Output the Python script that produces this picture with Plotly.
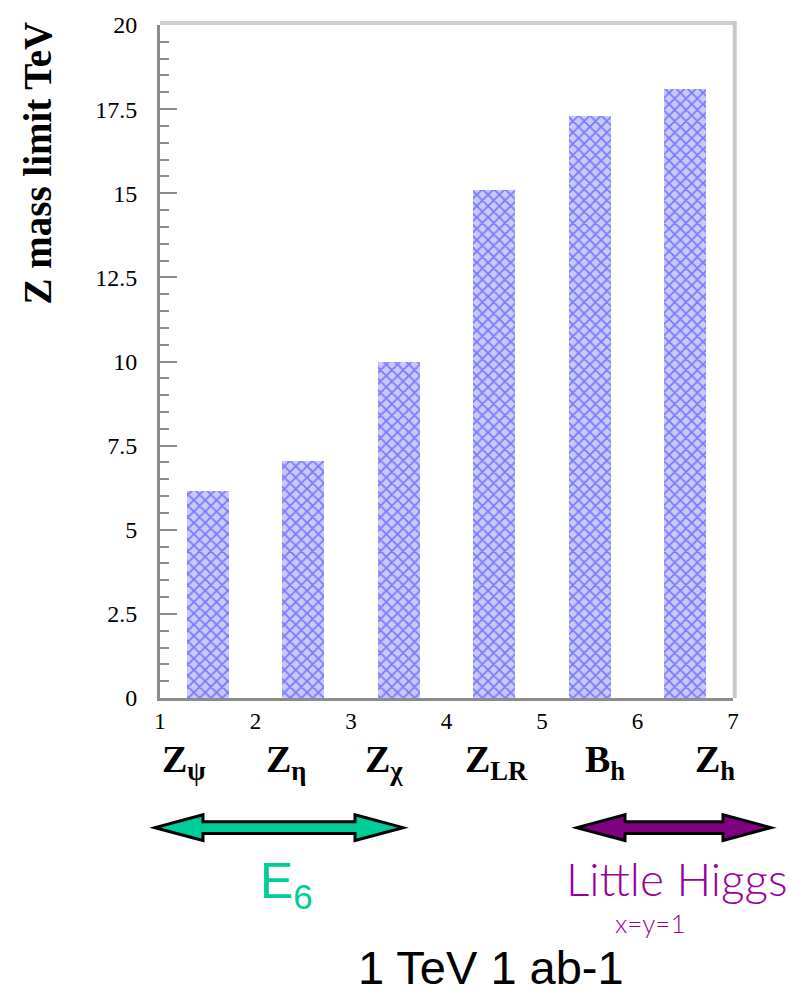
import plotly.graph_objects as go

# Z' mass reach at a 1 TeV collider with 1 ab^-1
models = ["Z<sub>ψ</sub>", "Z<sub>η</sub>", "Z<sub>χ</sub>", "Z<sub>LR</sub>", "B<sub>h</sub>", "Z<sub>h</sub>"]
mass_limit_tev = [6.15, 7.05, 10.0, 15.1, 17.3, 18.1]
x_ticks = [1, 2, 3, 4, 5, 6, 7]
y_ticks = [0, 2.5, 5, 7.5, 10, 12.5, 15, 17.5, 20]
y_tick_labels = ["0", "2.5", "5", "7.5", "10", "12.5", "15", "17.5", "20"]

# bars sit in the middle of each unit bin
bar_x = [i + 1.5 for i in range(len(models))]

W, H = 812, 999
ML, MR, MT, MB = 160, 79, 18, 301
PW, PH = W - ML - MR, H - MT - MB


def px(x):
    return (x - ML) / PW


def py(y):
    return (H - MB - y) / PH


SERIF = "Liberation Serif, Times New Roman, serif"
SANS = "Liberation Sans, Arial, sans-serif"

fig = go.Figure()
fig.add_trace(go.Bar(
    x=bar_x,
    y=mass_limit_tev,
    width=0.44,
    marker=dict(
        color="#bcbcfa",
        line=dict(width=0),
        pattern=dict(shape="x", fgcolor="#2a2aff", bgcolor="#c8c8fc", size=8, solidity=0.4),
    ),
    hoverinfo="skip",
))

fig.update_layout(
    width=W, height=H,
    margin=dict(l=ML, r=MR, t=MT, b=MB, pad=0),
    paper_bgcolor="white", plot_bgcolor="white",
    showlegend=False,
    bargap=0,
)

fig.update_xaxes(
    range=[1, 7], tickvals=x_ticks, ticktext=[str(v) for v in x_ticks],
    showgrid=False, zeroline=False, ticks="",
    showline=True, linecolor="#8c8c8c", linewidth=3,
    tickfont=dict(family=SERIF, size=23, color="black"),
    ticklabelstandoff=0,
)
fig.update_yaxes(
    range=[0, 20], tickvals=y_ticks, ticktext=y_tick_labels,
    showgrid=False, zeroline=False,
    ticks="inside", ticklen=17, tickwidth=2, tickcolor="#8c8c8c",
    minor=dict(dtick=0.5, ticks="inside", ticklen=9, tickwidth=2, tickcolor="#8c8c8c"),
    showline=True, linecolor="#8c8c8c", linewidth=3,
    tickfont=dict(family=SERIF, size=24, color="black"),
    ticklabelstandoff=15,
)

# light frame along the top and right edges
fig.add_shape(type="line", xref="paper", yref="paper", x0=0, x1=1.006, y0=1.003, y1=1.003,
              line=dict(color="#cfcfcf", width=4))
fig.add_shape(type="line", xref="paper", yref="paper", x0=1.003, x1=1.003, y0=0, y1=1.006,
              line=dict(color="#c8c8c8", width=4))

# model names under the axis
label_left_px = [160, 264, 363, 463, 583, 693]
for name, xl in zip(models, label_left_px):
    fig.add_annotation(
        text="<b>" + name + "</b>", x=px(xl), y=py(763), xref="paper", yref="paper",
        xanchor="left", yanchor="middle", showarrow=False,
        font=dict(family=SERIF, size=38, color="black"),
    )

# axis title
fig.add_annotation(
    text="<b>Z mass limit TeV</b>", textangle=-90,
    x=px(38), y=py(13), xref="paper", yref="paper",
    xanchor="center", yanchor="top", showarrow=False,
    font=dict(family=SERIF, size=39, color="black"),
)


def double_arrow(x0, x1, yc, fill, head=48, hh=13, sh=6):
    pts = [
        (x0, yc), (x0 + head, yc - hh), (x0 + head, yc - sh), (x1 - head, yc - sh),
        (x1 - head, yc - hh), (x1, yc), (x1 - head, yc + hh), (x1 - head, yc + sh),
        (x0 + head, yc + sh), (x0 + head, yc + hh),
    ]
    path = "M " + " L ".join(f"{px(a):.5f},{py(b):.5f}" for a, b in pts) + " Z"
    fig.add_shape(type="path", path=path, xref="paper", yref="paper",
                  fillcolor=fill, line=dict(color="black", width=3), layer="above")


double_arrow(155, 403, 829, "#00cc99")
double_arrow(577, 771, 829, "#800080")

# group labels
fig.add_annotation(
    text="E<sub>6</sub>", x=px(258), y=py(886), xref="paper", yref="paper",
    xanchor="left", yanchor="middle", showarrow=False,
    font=dict(family=SANS, size=50, color="#00cc99"),
)
fig.add_annotation(
    text="Little Higgs", x=px(676), y=py(880), xref="paper", yref="paper",
    xanchor="center", yanchor="middle", showarrow=False,
    font=dict(family="Lato, " + SANS, size=46, color="#990099", weight=300),
)
fig.add_annotation(
    text="x=y=1", x=px(650), y=py(925), xref="paper", yref="paper",
    xanchor="center", yanchor="middle", showarrow=False,
    font=dict(family="Lato, " + SANS, size=26, color="#990099", weight=300),
)
fig.add_annotation(
    text="1 TeV 1 ab-1", x=px(491), y=py(999), xref="paper", yref="paper",
    xanchor="center", yanchor="bottom", showarrow=False,
    font=dict(family=SANS, size=47, color="black"),
)

fig.write_html("out.html")
